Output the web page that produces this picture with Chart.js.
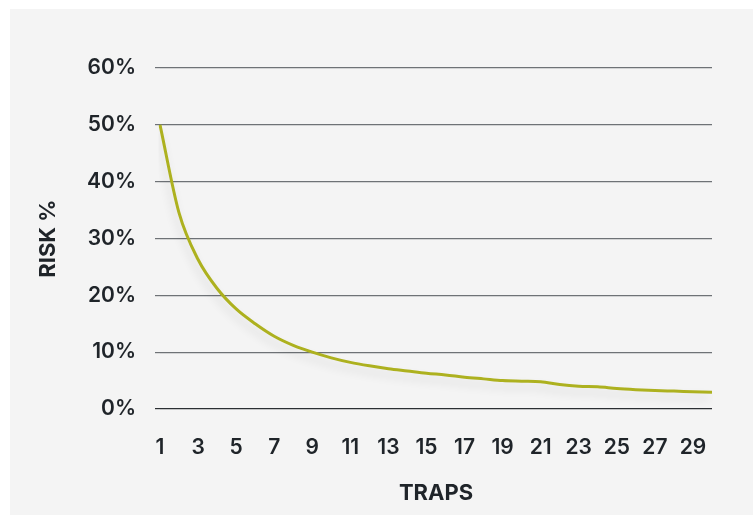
<!DOCTYPE html>
<html lang="en">
<head>
  <meta charset="UTF-8">
  <title>Risk vs traps</title>
  <script src="https://cdn.jsdelivr.net/npm/chart.js"></script>
  <style>
    body {
      margin: 0;
      background: #ffffff;
      font-family: Inter, "Noto Sans", sans-serif;
    }
    .panel {
      position: absolute;
      left: 10px;
      top: 9px;
      width: 743px;
      height: 506px;
      background: #f4f4f4;
    }
    .chart-box {
      position: absolute;
      left: 0;
      top: 0;
      width: 756px;
      height: 515px;
    }
  </style>
</head>
<body>
<div class="panel"></div>
<div class="chart-box">
  <canvas id="riskChart" width="756" height="515"></canvas>
</div>

<script>
  // traps 1..30 and estimated risk (%)
  const traps = [1, 2, 3, 4, 5, 6, 7, 8, 9, 10, 11, 12, 13, 14, 15,
                 16, 17, 18, 19, 20, 21, 22, 23, 24, 25, 26, 27, 28, 29, 30];
  const riskPct = [50, 34.5, 26.3, 21.2, 17.6, 15, 12.8, 11.2, 10, 9, 8.2, 7.6, 7.1, 6.7, 6.3,
                   6.0, 5.6, 5.3, 5.0, 4.9, 4.8, 4.3, 4.0, 3.9, 3.6, 3.4, 3.25, 3.15, 3.05, 2.95];
  const yTicks = [0, 10, 20, 30, 40, 50, 60];

  const textColor = '#1f2429';

  const lineShadow = {
    id: 'lineShadow',
    beforeDatasetsDraw(chart) {
      const ctx = chart.ctx;
      ctx.save();
      ctx.shadowColor = 'rgba(0,0,0,0.12)';
      ctx.shadowBlur = 10;
      ctx.shadowOffsetX = -2;
      ctx.shadowOffsetY = 6;
    },
    afterDatasetsDraw(chart) {
      chart.ctx.restore();
    }
  };

  new Chart(document.getElementById('riskChart').getContext('2d'), {
    type: 'line',
    data: {
      labels: traps.map(String),
      datasets: [{
        data: riskPct,
        borderColor: '#adb11f',
        borderWidth: 3,
        pointRadius: 0,
        cubicInterpolationMode: 'monotone',
        fill: false
      }]
    },
    options: {
      responsive: false,
      animation: false,
      layout: { padding: { top: 68, right: 44, left: 0, bottom: 0 } },
      plugins: {
        legend: { display: false },
        tooltip: { enabled: false }
      },
      scales: {
        x: {
          offset: false,
          grid: { display: false },
          border: { display: false },
          ticks: {
            autoSkip: false,
            maxRotation: 0,
            color: textColor,
            padding: 18,
            font: { family: 'Inter', size: 21, weight: 600 },
            callback: function (v, i) { return traps[i] % 2 === 1 ? traps[i] : ''; }
          },
          title: {
            display: true,
            text: 'TRAPS',
            color: textColor,
            padding: { top: 0, bottom: 8 },
            font: { family: 'Inter', size: 22, weight: 700 }
          },
          afterFit(scale) { scale.height = 106; }
        },
        y: {
          min: 0,
          max: 60,
          afterBuildTicks(scale) { scale.ticks = yTicks.map(v => ({ value: v })); },
          grid: {
            color: ctx => ctx.tick && ctx.tick.value === 0 ? '#2b2f33' : '#6e7276',
            lineWidth: 1.2,
            drawTicks: true,
            tickLength: 5
          },
          border: { display: false },
          ticks: {
            color: textColor,
            padding: 19,
            font: { family: 'Inter', size: 21, weight: 600 },
            callback: v => v + '%'
          },
          title: {
            display: true,
            text: 'RISK %',
            color: textColor,
            padding: { top: 35, bottom: 0 },
            font: { family: 'Inter', size: 22, weight: 700 }
          },
          afterFit(scale) { scale.width = 160; }
        }
      }
    },
    plugins: [lineShadow]
  });
</script>
</body>
</html>
